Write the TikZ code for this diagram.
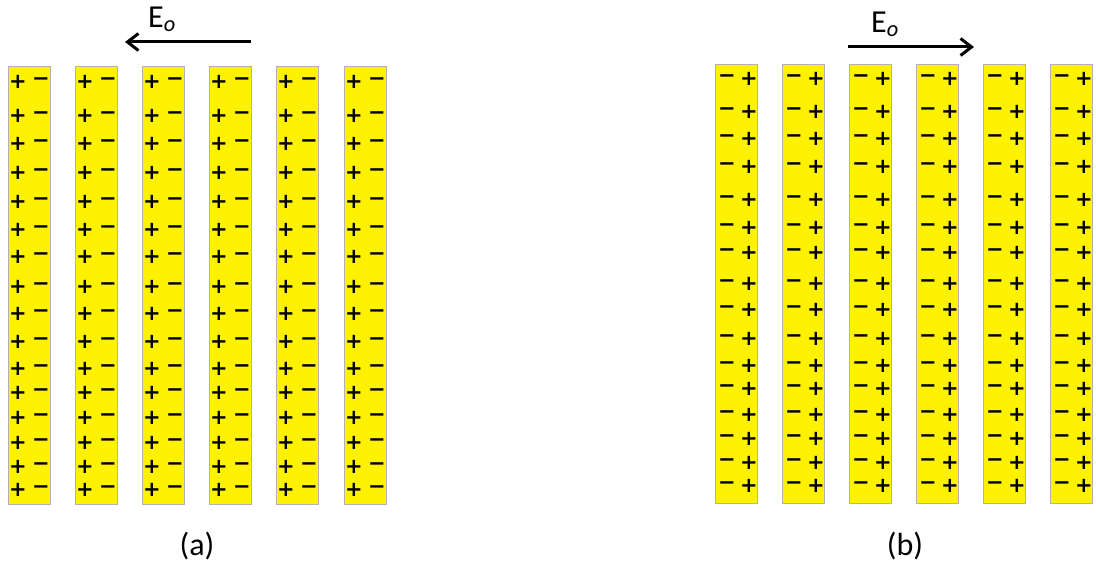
\documentclass[tikz,border=0pt]{standalone}
\usepackage{fontspec}
\setmainfont{Carlito}
\newfontfamily\signfont{DejaVu Sans Bold}
\usetikzlibrary{arrows.meta}
\tikzset{
  strip/.style={draw=gray!60, fill=yellow, line width=0.8pt, minimum width=42pt,
    inner sep=0pt, anchor=north west},
  sign/.style={font=\signfont\fontsize{21}{21}\selectfont, inner sep=0pt},
  field/.style={line width=3pt, -{Straight Barb[length=11pt,width=17pt]}},
  lbl/.style={font=\fontsize{32}{38}\selectfont, inner sep=0pt}
}
\begin{document}
\begin{tikzpicture}[x=1pt,y=-1pt]
    \useasboundingbox (0,0) rectangle (1096,564);
    % (a) 条带与电荷
    \foreach \x [count=\i] in {8,75,142,209,276,344}{
      \node[strip, minimum height=438pt] (sa\i) at (\x,66) {};
      \foreach \y [count=\j] in {82,116,144,173,202,230,257,287,314,342,369,393,418,443,467,490}{
        \node[sign] (pa\i-\j) at (\x+10,\y) {+};
        \node[sign] (ma\i-\j) at (\x+33,\y) {−};
      }
    }
    % (b) 条带与电荷
    \foreach \x [count=\i] in {715,782,849,916,983,1050}{
      \node[strip, minimum height=439pt] (sb\i) at (\x,64) {};
      \foreach \y [count=\j] in {79,112,139,167,200,228,253,284,310,339,366,389,415,439,463,486}{
        \node[sign] (mb\i-\j) at (\x+12,\y) {−};
        \node[sign] (pb\i-\j) at (\x+34,\y) {+};
      }
    }
    % 外场
    \coordinate (fa0) at (251,42);
    \coordinate (fa1) at (125,42);
    \draw[field] (fa0) -- (fa1);
    \node[lbl, anchor=base west] (ea) at (148,28) {E\textsubscript{\itshape o}};
    \coordinate (fb0) at (848,47);
    \coordinate (fb1) at (974,47);
    \draw[field] (fb0) -- (fb1);
    \node[lbl, anchor=base west] (eb) at (871,33) {E\textsubscript{\itshape o}};
    % 标签
    \node[lbl, anchor=base] (la) at (197,555) {(a)};
    \node[lbl, anchor=base] (lb) at (905,555) {(b)};
\end{tikzpicture}
\end{document}
